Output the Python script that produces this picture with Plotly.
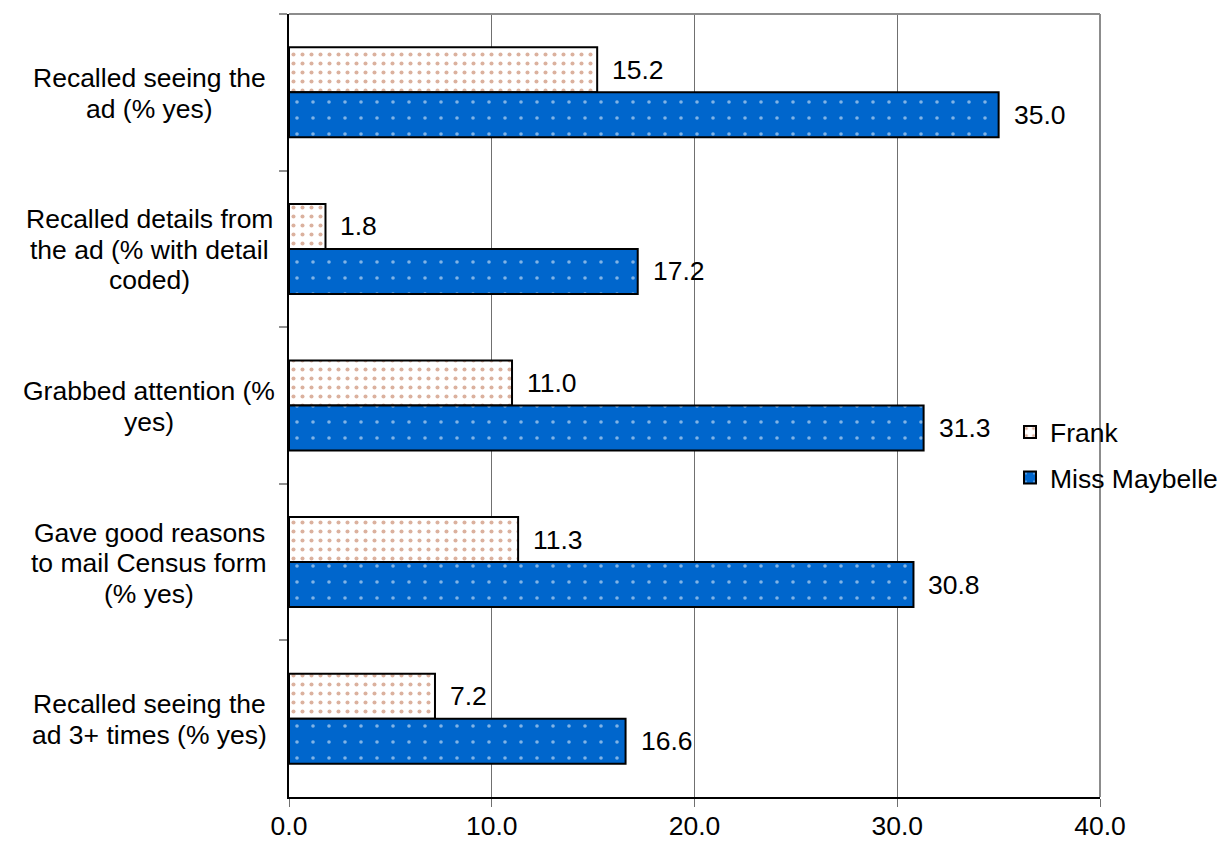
import plotly.graph_objects as go

# Survey measures (top to bottom) and the share for each ad, in percent
categories = [
    ["Recalled seeing the", "ad (% yes)"],
    ["Recalled details from", "the ad (% with detail", "coded)"],
    ["Grabbed attention (%", "yes)"],
    ["Gave good reasons", "to mail Census form", "(% yes)"],
    ["Recalled seeing the", "ad 3+ times (% yes)"],
]
cat_keys = ["seen", "details", "attention", "reasons", "seen3"]
frank = [15.2, 1.8, 11.0, 11.3, 7.2]
maybelle = [35.0, 17.2, 31.3, 30.8, 16.6]
x_ticks = [0, 10, 20, 30, 40]

FONT = "Liberation Sans, Arial, sans-serif"
FS = 26.5
LINE_H = 30.5

fig = go.Figure()
fig.add_trace(go.Bar(
    y=cat_keys, x=frank, orientation="h", name="Frank", legendgroup="a",
    marker=dict(
        color="white",
        line=dict(color="black", width=2),
        pattern=dict(shape=".", size=9, solidity=0.16, fgcolor="#B8643E",
                     bgcolor="white", fillmode="overlay"),
    ),
    hoverinfo="x",
))
fig.add_trace(go.Bar(
    y=cat_keys, x=maybelle, orientation="h", name="Miss Maybelle", legendgroup="b",
    marker=dict(
        color="#0066CC",
        line=dict(color="black", width=2),
        pattern=dict(shape=".", size=16, solidity=0.04, fgcolor="white",
                     bgcolor="#0066CC", fillmode="overlay"),
    ),
    hoverinfo="x",
))

annotations = []
# value labels to the right of each bar
for k, v in zip(cat_keys, frank):
    annotations.append(dict(x=v, y=k, xref="x", yref="y", text=f"{v:.1f}",
                            showarrow=False, xanchor="left", yanchor="middle",
                            xshift=13, yshift=22.5,
                            font=dict(family=FONT, size=FS, color="black")))
for k, v in zip(cat_keys, maybelle):
    annotations.append(dict(x=v, y=k, xref="x", yref="y", text=f"{v:.1f}",
                            showarrow=False, xanchor="left", yanchor="middle",
                            xshift=13, yshift=-22.5,
                            font=dict(family=FONT, size=FS, color="black")))
# centred category labels, one annotation per line
for k, lines in zip(cat_keys, categories):
    n = len(lines)
    for i, line in enumerate(lines):
        annotations.append(dict(x=-0.1726, y=k, xref="paper", yref="y", text=line,
                                showarrow=False, xanchor="center", yanchor="middle",
                                yshift=((n - 1) / 2 - i) * LINE_H - 1,
                                font=dict(family=FONT, size=FS, color="black")))

fig.update_layout(
    width=1225, height=842,
    margin=dict(l=289, r=125, t=14, b=45, pad=0, autoexpand=False),
    paper_bgcolor="white", plot_bgcolor="white",
    barmode="group", bargap=0.425, bargroupgap=0,
    font=dict(family=FONT, size=FS, color="black"),
    xaxis=dict(
        range=[0, 40], tickvals=x_ticks, tickformat=".1f",
        showgrid=True, gridcolor="#707070", gridwidth=1,
        showline=True, linecolor="black", linewidth=2,
        ticks="outside", ticklen=8, tickcolor="#707070", tickwidth=1,
        ticklabelstandoff=-4,
        zeroline=False, fixedrange=True, automargin=False,
        tickfont=dict(family=FONT, size=FS, color="black"),
    ),
    yaxis=dict(
        autorange="reversed", showticklabels=False,
        showgrid=False, showline=True, linecolor="black", linewidth=2,
        ticks="outside", ticklen=8, tickcolor="#909090", tickwidth=2,
        tickson="boundaries", fixedrange=True, automargin=False,
    ),
    legend=dict(
        x=0.889, y=0.437, xanchor="left", yanchor="middle",
        bgcolor="rgba(0,0,0,0)", borderwidth=0,
        font=dict(family=FONT, size=FS, color="black"),
        traceorder="grouped", tracegroupgap=8,
    ),
    annotations=annotations,
    shapes=[
        dict(type="line", xref="paper", yref="paper", x0=0, x1=1, y0=1, y1=1,
             line=dict(color="#8C8C8C", width=2)),
        dict(type="line", xref="paper", yref="paper", x0=1, x1=1, y0=0, y1=1,
             line=dict(color="#8C8C8C", width=2)),
    ],
)

fig.write_html("out.html")
